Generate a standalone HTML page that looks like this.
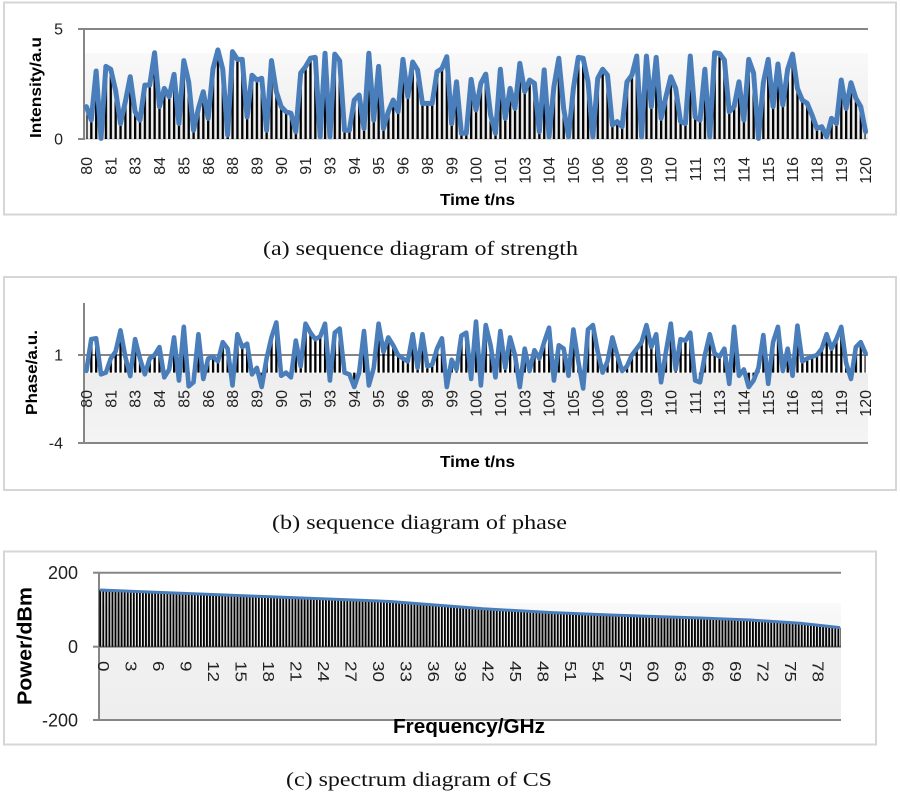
<!DOCTYPE html>
<html><head><meta charset="utf-8">
<style>
html,body{margin:0;padding:0;background:#fff;}
svg{display:block;}
</style></head>
<body>
<svg width="900" height="796" viewBox="0 0 900 796" xmlns="http://www.w3.org/2000/svg" font-family="'Liberation Sans', sans-serif">
<defs>
  <linearGradient id="ga" x1="0" y1="0" x2="0" y2="1"><stop offset="0" stop-color="#f9f9f9"/><stop offset="1" stop-color="#ececec"/></linearGradient>
  <linearGradient id="gb" x1="0" y1="0" x2="0" y2="1"><stop offset="0" stop-color="#eeeeee"/><stop offset="1" stop-color="#f4f4f4"/></linearGradient>
  <linearGradient id="gc" x1="0" y1="0" x2="0" y2="1"><stop offset="0" stop-color="#fafafa"/><stop offset="0.4" stop-color="#f1f1f1"/><stop offset="1" stop-color="#eeeeee"/></linearGradient>
  <pattern id="pa" patternUnits="userSpaceOnUse" x="85.3" y="0" width="4.87" height="800"><rect x="0" y="0" width="2.3" height="800" fill="#000"/></pattern>
  <pattern id="pc" patternUnits="userSpaceOnUse" x="99.3" y="0" width="3.05" height="800"><rect x="0" y="0" width="1.9" height="800" fill="#000"/></pattern>
  <clipPath id="ca"><polygon transform="translate(86.4,139) scale(4.87,-22)" points="0,0 0,1.47 1,0.86 2,3.09 3,0.03 4,3.3 5,3.17 6,2.2 7,0.7 8,1.7 9,2.83 10,1.24 11,0.86 12,2.45 13,2.45 14,3.92 15,1.47 16,2.3 17,1.92 18,2.94 19,0.7 20,3.56 21,2.6 22,0.4 23,1.39 24,2.15 25,0.94 26,3.2 27,4.05 28,3.17 29,0.18 30,3.97 31,3.62 32,3.62 33,1.0 34,2.9 35,2.68 36,2.76 37,0.4 38,3.56 39,2.15 40,1.47 41,1.24 42,1.17 43,0.33 44,3.0 45,3.29 46,3.67 47,3.71 48,0.1 49,3.9 50,0.1 51,3.86 52,3.56 53,0.4 54,0.4 55,1.77 56,2.0 57,0.48 58,3.9 59,0.86 60,3.3 61,0.48 62,1.24 63,1.77 64,1.24 65,3.62 66,1.92 67,3.5 68,3.14 69,1.62 70,1.62 71,1.62 72,3.06 73,3.2 74,3.74 75,0.7 76,2.6 77,0.26 78,0.26 79,2.71 80,1.32 81,2.53 82,2.95 83,1.09 84,0.26 85,3.17 86,0.94 87,2.3 88,1.39 89,3.44 90,2.15 91,2.68 92,2.53 93,0.33 94,3.14 95,0.1 96,2.38 97,3.67 98,1.39 99,0.1 100,2.3 101,3.71 102,3.67 103,2.6 104,0.1 105,2.76 106,3.17 107,2.9 108,0.64 109,0.79 110,0.56 111,2.6 112,2.9 113,3.77 114,0.1 115,3.77 116,1.47 117,3.71 118,0.94 119,1.92 120,2.83 121,2.3 122,0.79 123,0.7 124,3.77 125,1.0 126,0.86 127,3.17 128,0.1 129,3.92 130,3.89 131,3.59 132,1.24 133,1.47 134,2.6 135,0.86 136,3.62 137,3.0 138,0.03 139,2.56 140,3.62 141,1.47 142,3.41 143,1.55 144,3.17 145,3.86 146,2.3 147,1.77 148,1.62 149,1.09 150,0.48 151,0.56 152,0.1 153,0.94 154,0.7 155,2.68 156,1.39 157,2.56 158,1.85 159,1.47 160,0.33 160,0"/></clipPath>
  <clipPath id="cb"><polygon transform="translate(86.4,372.6) scale(4.87,-17.6)" points="0,0 0,0.1 1,1.9 2,1.95 3,-0.1 4,0 5,0.8 6,1.2 7,2.4 8,0.9 9,-0.2 10,1.9 11,0.8 12,-0.1 13,0.8 14,1.0 15,1.45 16,-0.27 17,0.18 18,2.0 19,-0.45 20,2.6 21,-0.78 22,-0.55 23,2.18 24,-0.36 25,0.8 26,0.9 27,0.64 28,1.73 29,1.36 30,-0.73 31,2.18 32,1.45 33,1.64 34,-0.1 35,0.27 36,-0.82 37,0.8 38,2.0 39,2.85 40,-0.18 41,0 42,-0.27 43,1.82 44,0.36 45,2.78 46,2.27 47,1.9 48,2.05 49,2.78 50,-0.45 51,2.27 52,2.5 53,0 54,-0.1 55,-0.82 56,0 57,2.36 58,-0.73 59,0.27 60,2.78 61,1.18 62,2.0 63,1.55 64,1.0 65,0.8 66,0.64 67,2.18 68,0.27 69,2.18 70,0.36 71,0.45 72,1.36 73,1.95 74,-0.82 75,0.73 76,0.18 77,2.1 78,2.27 79,-0.36 80,2.9 81,-0.73 82,2.7 83,1.55 84,-0.27 85,2.36 86,0.27 87,2.0 88,1.0 89,-0.82 90,1.36 91,0.09 92,1.27 93,0.8 94,1.73 95,2.55 96,-0.45 97,1.55 98,1.36 99,-0.18 100,2.45 101,0.64 102,-0.9 103,2.45 104,2.7 105,1.18 106,0 107,0.64 108,2.0 109,1.0 110,0.09 111,0.36 112,1.0 113,1.36 114,1.73 115,2.7 116,1.45 117,2.18 118,-0.55 119,1.18 120,2.78 121,0.18 122,1.9 123,1.82 124,2.27 125,-0.45 126,-0.55 127,1.0 128,2.18 129,1.09 130,0.9 131,1.36 132,-0.64 133,2.6 134,-0.18 135,0.18 136,-0.82 137,-0.45 138,0.27 139,2.13 140,-0.64 141,1.73 142,2.6 143,0.09 144,1.36 145,-0.18 146,2.67 147,0.64 148,0.8 149,0.9 150,1.0 151,1.36 152,2.18 153,1.36 154,1.9 155,2.6 156,0.55 157,-0.36 158,1.45 159,1.73 160,1.09 160,0"/></clipPath>
  <clipPath id="cc"><polygon points="99,646.7 99,590 250,596 390,601.5 483,608.8 550,612.5 610,615 700,618 750,620 800,623.2 841,627.6 841,646.7"/></clipPath>
</defs>

<!-- ================= PANEL A ================= -->
<rect x="4" y="2.5" width="892" height="212" fill="#fff" stroke="#d6d6d6" stroke-width="2"/>
<rect x="84" y="53" width="784" height="86" fill="url(#ga)"/>
<line x1="84" y1="29" x2="868" y2="29" stroke="#868686" stroke-width="2"/>
<line x1="84" y1="139" x2="868" y2="139" stroke="#bdbdbd" stroke-width="1"/>
<line x1="84" y1="28" x2="84" y2="140" stroke="#868686" stroke-width="2"/>
<line x1="78" y1="29" x2="84" y2="29" stroke="#868686" stroke-width="2"/>
<line x1="78" y1="139" x2="84" y2="139" stroke="#868686" stroke-width="2"/>
<rect x="84" y="25" width="785" height="115" fill="url(#pa)" clip-path="url(#ca)"/>
<polyline transform="translate(86.4,139) scale(4.87,-22)" vector-effect="non-scaling-stroke" fill="none" stroke="#4a7ebb" stroke-width="5" stroke-linejoin="round" stroke-linecap="round" points="0,1.47 1,0.86 2,3.09 3,0.03 4,3.3 5,3.17 6,2.2 7,0.7 8,1.7 9,2.83 10,1.24 11,0.86 12,2.45 13,2.45 14,3.92 15,1.47 16,2.3 17,1.92 18,2.94 19,0.7 20,3.56 21,2.6 22,0.4 23,1.39 24,2.15 25,0.94 26,3.2 27,4.05 28,3.17 29,0.18 30,3.97 31,3.62 32,3.62 33,1.0 34,2.9 35,2.68 36,2.76 37,0.4 38,3.56 39,2.15 40,1.47 41,1.24 42,1.17 43,0.33 44,3.0 45,3.29 46,3.67 47,3.71 48,0.1 49,3.9 50,0.1 51,3.86 52,3.56 53,0.4 54,0.4 55,1.77 56,2.0 57,0.48 58,3.9 59,0.86 60,3.3 61,0.48 62,1.24 63,1.77 64,1.24 65,3.62 66,1.92 67,3.5 68,3.14 69,1.62 70,1.62 71,1.62 72,3.06 73,3.2 74,3.74 75,0.7 76,2.6 77,0.26 78,0.26 79,2.71 80,1.32 81,2.53 82,2.95 83,1.09 84,0.26 85,3.17 86,0.94 87,2.3 88,1.39 89,3.44 90,2.15 91,2.68 92,2.53 93,0.33 94,3.14 95,0.1 96,2.38 97,3.67 98,1.39 99,0.1 100,2.3 101,3.71 102,3.67 103,2.6 104,0.1 105,2.76 106,3.17 107,2.9 108,0.64 109,0.79 110,0.56 111,2.6 112,2.9 113,3.77 114,0.1 115,3.77 116,1.47 117,3.71 118,0.94 119,1.92 120,2.83 121,2.3 122,0.79 123,0.7 124,3.77 125,1.0 126,0.86 127,3.17 128,0.1 129,3.92 130,3.89 131,3.59 132,1.24 133,1.47 134,2.6 135,0.86 136,3.62 137,3.0 138,0.03 139,2.56 140,3.62 141,1.47 142,3.41 143,1.55 144,3.17 145,3.86 146,2.3 147,1.77 148,1.62 149,1.09 150,0.48 151,0.56 152,0.1 153,0.94 154,0.7 155,2.68 156,1.39 157,2.56 158,1.85 159,1.47 160,0.33"/>
<g font-size="16" fill="#222" text-anchor="end">
  <text x="63" y="29" dy="0.35em">5</text>
  <text x="63" y="139" dy="0.35em">0</text>
</g>
<text transform="translate(35.5,87.5) rotate(-90)" text-anchor="middle" dy="0.35em" font-size="16" font-weight="bold" fill="#000" textLength="101" lengthAdjust="spacingAndGlyphs">Intensity/a.u</text>
<g font-size="16" fill="#222" text-anchor="end">
  <text transform="translate(86.4,157) rotate(-90)" dy="0.35em">80</text>
  <text transform="translate(110.75,157) rotate(-90)" dy="0.35em">81</text>
  <text transform="translate(135.1,157) rotate(-90)" dy="0.35em">83</text>
  <text transform="translate(159.45,157) rotate(-90)" dy="0.35em">84</text>
  <text transform="translate(183.8,157) rotate(-90)" dy="0.35em">85</text>
  <text transform="translate(208.15,157) rotate(-90)" dy="0.35em">86</text>
  <text transform="translate(232.5,157) rotate(-90)" dy="0.35em">88</text>
  <text transform="translate(256.85,157) rotate(-90)" dy="0.35em">89</text>
  <text transform="translate(281.2,157) rotate(-90)" dy="0.35em">90</text>
  <text transform="translate(305.55,157) rotate(-90)" dy="0.35em">91</text>
  <text transform="translate(329.9,157) rotate(-90)" dy="0.35em">93</text>
  <text transform="translate(354.25,157) rotate(-90)" dy="0.35em">94</text>
  <text transform="translate(378.6,157) rotate(-90)" dy="0.35em">95</text>
  <text transform="translate(402.95,157) rotate(-90)" dy="0.35em">96</text>
  <text transform="translate(427.3,157) rotate(-90)" dy="0.35em">98</text>
  <text transform="translate(451.65,157) rotate(-90)" dy="0.35em">99</text>
  <text transform="translate(476,157) rotate(-90)" dy="0.35em">100</text>
  <text transform="translate(500.35,157) rotate(-90)" dy="0.35em">101</text>
  <text transform="translate(524.7,157) rotate(-90)" dy="0.35em">103</text>
  <text transform="translate(549.05,157) rotate(-90)" dy="0.35em">104</text>
  <text transform="translate(573.4,157) rotate(-90)" dy="0.35em">105</text>
  <text transform="translate(597.75,157) rotate(-90)" dy="0.35em">106</text>
  <text transform="translate(622.1,157) rotate(-90)" dy="0.35em">108</text>
  <text transform="translate(646.45,157) rotate(-90)" dy="0.35em">109</text>
  <text transform="translate(670.8,157) rotate(-90)" dy="0.35em">110</text>
  <text transform="translate(695.15,157) rotate(-90)" dy="0.35em">111</text>
  <text transform="translate(719.5,157) rotate(-90)" dy="0.35em">113</text>
  <text transform="translate(743.85,157) rotate(-90)" dy="0.35em">114</text>
  <text transform="translate(768.2,157) rotate(-90)" dy="0.35em">115</text>
  <text transform="translate(792.55,157) rotate(-90)" dy="0.35em">116</text>
  <text transform="translate(816.9,157) rotate(-90)" dy="0.35em">118</text>
  <text transform="translate(841.25,157) rotate(-90)" dy="0.35em">119</text>
  <text transform="translate(865.6,157) rotate(-90)" dy="0.35em">120</text>
</g>
<text x="440" y="205" font-size="16" font-weight="bold" fill="#000" textLength="75" lengthAdjust="spacingAndGlyphs">Time t/ns</text>
<text x="263" y="255" font-family="'Liberation Serif', serif" font-size="20" fill="#111" textLength="315" lengthAdjust="spacingAndGlyphs">(a) sequence diagram of strength</text>

<!-- ================= PANEL B ================= -->
<rect x="4" y="277" width="892" height="213" fill="#fff" stroke="#d6d6d6" stroke-width="2"/>
<rect x="84" y="373" width="784" height="70" fill="url(#gb)"/>
<line x1="84" y1="355" x2="868" y2="355" stroke="#868686" stroke-width="2"/>
<line x1="84" y1="443" x2="868" y2="443" stroke="#868686" stroke-width="2"/>
<line x1="84" y1="303" x2="84" y2="444" stroke="#868686" stroke-width="2"/>
<line x1="78" y1="355" x2="84" y2="355" stroke="#868686" stroke-width="2"/>
<line x1="78" y1="443" x2="84" y2="443" stroke="#868686" stroke-width="2"/>
<rect x="84" y="300" width="785" height="143" fill="url(#pa)" clip-path="url(#cb)"/>
<polyline transform="translate(86.4,372.6) scale(4.87,-17.6)" vector-effect="non-scaling-stroke" fill="none" stroke="#4a7ebb" stroke-width="4.6" stroke-linejoin="round" stroke-linecap="round" points="0,0.1 1,1.9 2,1.95 3,-0.1 4,0 5,0.8 6,1.2 7,2.4 8,0.9 9,-0.2 10,1.9 11,0.8 12,-0.1 13,0.8 14,1.0 15,1.45 16,-0.27 17,0.18 18,2.0 19,-0.45 20,2.6 21,-0.78 22,-0.55 23,2.18 24,-0.36 25,0.8 26,0.9 27,0.64 28,1.73 29,1.36 30,-0.73 31,2.18 32,1.45 33,1.64 34,-0.1 35,0.27 36,-0.82 37,0.8 38,2.0 39,2.85 40,-0.18 41,0 42,-0.27 43,1.82 44,0.36 45,2.78 46,2.27 47,1.9 48,2.05 49,2.78 50,-0.45 51,2.27 52,2.5 53,0 54,-0.1 55,-0.82 56,0 57,2.36 58,-0.73 59,0.27 60,2.78 61,1.18 62,2.0 63,1.55 64,1.0 65,0.8 66,0.64 67,2.18 68,0.27 69,2.18 70,0.36 71,0.45 72,1.36 73,1.95 74,-0.82 75,0.73 76,0.18 77,2.1 78,2.27 79,-0.36 80,2.9 81,-0.73 82,2.7 83,1.55 84,-0.27 85,2.36 86,0.27 87,2.0 88,1.0 89,-0.82 90,1.36 91,0.09 92,1.27 93,0.8 94,1.73 95,2.55 96,-0.45 97,1.55 98,1.36 99,-0.18 100,2.45 101,0.64 102,-0.9 103,2.45 104,2.7 105,1.18 106,0 107,0.64 108,2.0 109,1.0 110,0.09 111,0.36 112,1.0 113,1.36 114,1.73 115,2.7 116,1.45 117,2.18 118,-0.55 119,1.18 120,2.78 121,0.18 122,1.9 123,1.82 124,2.27 125,-0.45 126,-0.55 127,1.0 128,2.18 129,1.09 130,0.9 131,1.36 132,-0.64 133,2.6 134,-0.18 135,0.18 136,-0.82 137,-0.45 138,0.27 139,2.13 140,-0.64 141,1.73 142,2.6 143,0.09 144,1.36 145,-0.18 146,2.67 147,0.64 148,0.8 149,0.9 150,1.0 151,1.36 152,2.18 153,1.36 154,1.9 155,2.6 156,0.55 157,-0.36 158,1.45 159,1.73 160,1.09"/>
<g font-size="16" fill="#222" text-anchor="end">
  <text x="63" y="355" dy="0.35em">1</text>
  <text x="63" y="443" dy="0.35em">-4</text>
</g>
<text transform="translate(31.5,372.5) rotate(-90)" text-anchor="middle" dy="0.35em" font-size="16" font-weight="bold" fill="#000" textLength="85" lengthAdjust="spacingAndGlyphs">Phase/a.u.</text>
<g font-size="16" fill="#222" text-anchor="end">
  <text transform="translate(86.4,390) rotate(-90)" dy="0.35em">80</text>
  <text transform="translate(110.75,390) rotate(-90)" dy="0.35em">81</text>
  <text transform="translate(135.1,390) rotate(-90)" dy="0.35em">83</text>
  <text transform="translate(159.45,390) rotate(-90)" dy="0.35em">84</text>
  <text transform="translate(183.8,390) rotate(-90)" dy="0.35em">85</text>
  <text transform="translate(208.15,390) rotate(-90)" dy="0.35em">86</text>
  <text transform="translate(232.5,390) rotate(-90)" dy="0.35em">88</text>
  <text transform="translate(256.85,390) rotate(-90)" dy="0.35em">89</text>
  <text transform="translate(281.2,390) rotate(-90)" dy="0.35em">90</text>
  <text transform="translate(305.55,390) rotate(-90)" dy="0.35em">91</text>
  <text transform="translate(329.9,390) rotate(-90)" dy="0.35em">93</text>
  <text transform="translate(354.25,390) rotate(-90)" dy="0.35em">94</text>
  <text transform="translate(378.6,390) rotate(-90)" dy="0.35em">95</text>
  <text transform="translate(402.95,390) rotate(-90)" dy="0.35em">96</text>
  <text transform="translate(427.3,390) rotate(-90)" dy="0.35em">98</text>
  <text transform="translate(451.65,390) rotate(-90)" dy="0.35em">99</text>
  <text transform="translate(476,390) rotate(-90)" dy="0.35em">100</text>
  <text transform="translate(500.35,390) rotate(-90)" dy="0.35em">101</text>
  <text transform="translate(524.7,390) rotate(-90)" dy="0.35em">103</text>
  <text transform="translate(549.05,390) rotate(-90)" dy="0.35em">104</text>
  <text transform="translate(573.4,390) rotate(-90)" dy="0.35em">105</text>
  <text transform="translate(597.75,390) rotate(-90)" dy="0.35em">106</text>
  <text transform="translate(622.1,390) rotate(-90)" dy="0.35em">108</text>
  <text transform="translate(646.45,390) rotate(-90)" dy="0.35em">109</text>
  <text transform="translate(670.8,390) rotate(-90)" dy="0.35em">110</text>
  <text transform="translate(695.15,390) rotate(-90)" dy="0.35em">111</text>
  <text transform="translate(719.5,390) rotate(-90)" dy="0.35em">113</text>
  <text transform="translate(743.85,390) rotate(-90)" dy="0.35em">114</text>
  <text transform="translate(768.2,390) rotate(-90)" dy="0.35em">115</text>
  <text transform="translate(792.55,390) rotate(-90)" dy="0.35em">116</text>
  <text transform="translate(816.9,390) rotate(-90)" dy="0.35em">118</text>
  <text transform="translate(841.25,390) rotate(-90)" dy="0.35em">119</text>
  <text transform="translate(865.6,390) rotate(-90)" dy="0.35em">120</text>
</g>
<text x="440" y="467" font-size="16" font-weight="bold" fill="#000" textLength="75" lengthAdjust="spacingAndGlyphs">Time t/ns</text>
<text x="272" y="529" font-family="'Liberation Serif', serif" font-size="20" fill="#111" textLength="295" lengthAdjust="spacingAndGlyphs">(b) sequence diagram of phase</text>

<!-- ================= PANEL C ================= -->
<rect x="4" y="551.5" width="872" height="193" fill="#fff" stroke="#d6d6d6" stroke-width="2"/>
<rect x="99" y="603" width="742" height="117" fill="url(#gc)"/>
<line x1="99" y1="572.7" x2="841" y2="572.7" stroke="#868686" stroke-width="2"/>
<line x1="99" y1="646.7" x2="841" y2="646.7" stroke="#868686" stroke-width="2"/>
<line x1="99" y1="720" x2="841" y2="720" stroke="#868686" stroke-width="2"/>
<line x1="99" y1="572" x2="99" y2="721" stroke="#868686" stroke-width="2"/>
<line x1="93" y1="572.7" x2="99" y2="572.7" stroke="#868686" stroke-width="2"/>
<line x1="93" y1="646.7" x2="99" y2="646.7" stroke="#868686" stroke-width="2"/>
<line x1="93" y1="720" x2="99" y2="720" stroke="#868686" stroke-width="2"/>
<rect x="99" y="580" width="742" height="67" fill="url(#pc)" clip-path="url(#cc)"/>
<polyline fill="none" stroke="#4a7ebb" stroke-width="3" stroke-linejoin="round" points="100,590 250,596 390,601.5 483,608.8 550,612.5 610,615 700,618 750,620 800,623.2 840,627.6"/>
<g font-size="18" fill="#222" text-anchor="end">
  <text x="78" y="572.7" dy="0.35em">200</text>
  <text x="78" y="646.7" dy="0.35em">0</text>
  <text x="78" y="720" dy="0.35em">-200</text>
</g>
<text transform="translate(24.5,646) rotate(-90)" text-anchor="middle" dy="0.35em" font-size="20" font-weight="bold" fill="#000" textLength="118" lengthAdjust="spacingAndGlyphs">Power/dBm</text>
<g font-size="16" fill="#222" text-anchor="start">
  <text transform="translate(103.6,661) rotate(90)" dy="0.35em" textLength="10.5" lengthAdjust="spacingAndGlyphs">0</text>
  <text transform="translate(131.1,661) rotate(90)" dy="0.35em" textLength="10.5" lengthAdjust="spacingAndGlyphs">3</text>
  <text transform="translate(158.6,661) rotate(90)" dy="0.35em" textLength="10.5" lengthAdjust="spacingAndGlyphs">6</text>
  <text transform="translate(186.0,661) rotate(90)" dy="0.35em" textLength="10.5" lengthAdjust="spacingAndGlyphs">9</text>
  <text transform="translate(213.5,661) rotate(90)" dy="0.35em" textLength="21" lengthAdjust="spacingAndGlyphs">12</text>
  <text transform="translate(241.0,661) rotate(90)" dy="0.35em" textLength="21" lengthAdjust="spacingAndGlyphs">15</text>
  <text transform="translate(268.5,661) rotate(90)" dy="0.35em" textLength="21" lengthAdjust="spacingAndGlyphs">18</text>
  <text transform="translate(296.0,661) rotate(90)" dy="0.35em" textLength="21" lengthAdjust="spacingAndGlyphs">21</text>
  <text transform="translate(323.4,661) rotate(90)" dy="0.35em" textLength="21" lengthAdjust="spacingAndGlyphs">24</text>
  <text transform="translate(350.9,661) rotate(90)" dy="0.35em" textLength="21" lengthAdjust="spacingAndGlyphs">27</text>
  <text transform="translate(378.4,661) rotate(90)" dy="0.35em" textLength="21" lengthAdjust="spacingAndGlyphs">30</text>
  <text transform="translate(405.9,661) rotate(90)" dy="0.35em" textLength="21" lengthAdjust="spacingAndGlyphs">33</text>
  <text transform="translate(433.4,661) rotate(90)" dy="0.35em" textLength="21" lengthAdjust="spacingAndGlyphs">36</text>
  <text transform="translate(460.8,661) rotate(90)" dy="0.35em" textLength="21" lengthAdjust="spacingAndGlyphs">39</text>
  <text transform="translate(488.3,661) rotate(90)" dy="0.35em" textLength="21" lengthAdjust="spacingAndGlyphs">42</text>
  <text transform="translate(515.8,661) rotate(90)" dy="0.35em" textLength="21" lengthAdjust="spacingAndGlyphs">45</text>
  <text transform="translate(543.3,661) rotate(90)" dy="0.35em" textLength="21" lengthAdjust="spacingAndGlyphs">48</text>
  <text transform="translate(570.8,661) rotate(90)" dy="0.35em" textLength="21" lengthAdjust="spacingAndGlyphs">51</text>
  <text transform="translate(598.2,661) rotate(90)" dy="0.35em" textLength="21" lengthAdjust="spacingAndGlyphs">54</text>
  <text transform="translate(625.7,661) rotate(90)" dy="0.35em" textLength="21" lengthAdjust="spacingAndGlyphs">57</text>
  <text transform="translate(653.2,661) rotate(90)" dy="0.35em" textLength="21" lengthAdjust="spacingAndGlyphs">60</text>
  <text transform="translate(680.7,661) rotate(90)" dy="0.35em" textLength="21" lengthAdjust="spacingAndGlyphs">63</text>
  <text transform="translate(708.2,661) rotate(90)" dy="0.35em" textLength="21" lengthAdjust="spacingAndGlyphs">66</text>
  <text transform="translate(735.6,661) rotate(90)" dy="0.35em" textLength="21" lengthAdjust="spacingAndGlyphs">69</text>
  <text transform="translate(763.1,661) rotate(90)" dy="0.35em" textLength="21" lengthAdjust="spacingAndGlyphs">72</text>
  <text transform="translate(790.6,661) rotate(90)" dy="0.35em" textLength="21" lengthAdjust="spacingAndGlyphs">75</text>
  <text transform="translate(818.1,661) rotate(90)" dy="0.35em" textLength="21" lengthAdjust="spacingAndGlyphs">78</text>
</g>
<text x="393" y="733" font-size="20" font-weight="bold" fill="#000" textLength="152" lengthAdjust="spacingAndGlyphs">Frequency/GHz</text>
<text x="286" y="786" font-family="'Liberation Serif', serif" font-size="20" fill="#111" textLength="266" lengthAdjust="spacingAndGlyphs">(c) spectrum diagram of CS</text>
</svg>
</body></html>
